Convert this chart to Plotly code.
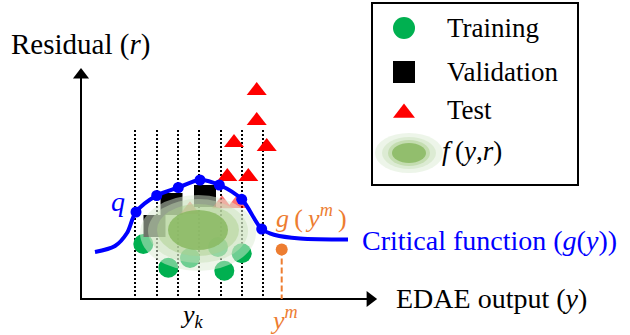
import plotly.graph_objects as go

# ---- canvas coordinates (x to the right, y downward) ----
W, H = 630, 335

# axes of the sketch
axis_origin = (81, 299)
y_axis_tip = 65
x_axis_tip = 380

# dotted bins along the output axis
grid_x = [135, 157, 178, 199, 221, 242, 263]
grid_top = 130

# critical function g(y) and its knots q
curve_x = [95, 115, 127, 136, 156.7, 178.3, 200, 219.3, 241.7, 261.7, 275, 300, 348]
curve_y = [252, 246, 233, 212, 195.5, 187.5, 180, 185, 199.3, 229, 235, 238.5, 239.5]
knot_index = [3, 4, 5, 6, 7, 8, 9]

# samples
train_x = [143.3, 168.3, 190, 218, 224.3, 241.7]
train_y = [244, 267.7, 258, 247, 270.7, 253.3]
val_x = [154.5, 171.5, 205]
val_y = [226, 204, 196]
test_x = [256.7, 256.7, 234, 266.7, 227.3, 248.3]
test_y = [90.7, 120.7, 142.7, 146.7, 176.7, 176.7]
test_hidden_x = [237, 222, 190]
test_hidden_y = [203.7, 204, 210]

# density f(y, r): nested layers (cx, cy, rx, ry)
density_cx = [198, 198, 198, 198]
density_cy = [233, 231, 230, 230]
density_rx = [58, 50, 41, 30]
density_ry = [38, 32, 26, 20]
density_fill = ["rgba(220,236,212,0.5)", "rgba(200,225,185,0.45)",
                "rgba(172,207,142,0.5)", "rgba(138,185,98,0.85)"]

# new observation y^m
ym_x, ym_y = 281.7, 249.5

# legend
legend_box = (372, 3, 578, 185)
legend_mark_x = 404
legend_rows_y = [28, 72, 110, 151]
legend_labels = ["Training", "Validation", "Test", "<i>f</i>\u2009(<i>y</i>,<i>r</i>)"]
legend_blob_scale = [(34, 20), (27, 16), (21, 13), (17, 10)]
legend_blob_c = (409, 153)

BLUE = "#0000FF"
GREEN = "#00B050"
RED = "#FF0000"
ORANGE = "#ED7D31"
FONT = "Liberation Serif"

fig = go.Figure()

# dotted bin lines
for gx in grid_x:
    fig.add_trace(go.Scatter(
        x=[gx, gx], y=[grid_top, axis_origin[1]], mode="lines",
        line=dict(color="black", width=2, dash="2px,2px"),
        hoverinfo="skip", showlegend=False))

# axis lines and arrow heads
ARROW_SIZE = 14
tip_offset = ARROW_SIZE / 2 * 2 ** 0.5
fig.add_trace(go.Scatter(x=[axis_origin[0], axis_origin[0]],
                         y=[axis_origin[1] + 1, y_axis_tip + 6], mode="lines",
                         line=dict(color="black", width=2), showlegend=False))
fig.add_trace(go.Scatter(x=[axis_origin[0] - 1, x_axis_tip - 6],
                         y=[axis_origin[1], axis_origin[1]], mode="lines",
                         line=dict(color="black", width=2), showlegend=False))
fig.add_trace(go.Scatter(x=[axis_origin[0]], y=[y_axis_tip + tip_offset], mode="markers",
                         marker=dict(symbol="triangle-up", size=ARROW_SIZE, color="black"),
                         showlegend=False))
fig.add_trace(go.Scatter(x=[x_axis_tip - tip_offset], y=[axis_origin[1]], mode="markers",
                         marker=dict(symbol="triangle-right", size=ARROW_SIZE, color="black"),
                         showlegend=False))

# samples
fig.add_trace(go.Scatter(x=train_x, y=train_y, mode="markers",
                         marker=dict(symbol="circle", size=20, color=GREEN),
                         showlegend=False))
fig.add_trace(go.Scatter(x=val_x, y=val_y, mode="markers",
                         marker=dict(symbol="square", size=22, color="black"),
                         showlegend=False))
fig.add_trace(go.Scatter(x=test_hidden_x, y=test_hidden_y, mode="markers",
                         marker=dict(symbol="triangle-up", size=17.4, color=RED),
                         opacity=0.55, showlegend=False))
fig.add_trace(go.Scatter(x=test_x, y=test_y, mode="markers",
                         marker=dict(symbol="triangle-up", size=17.4, color=RED),
                         showlegend=False))

# critical function and knots
fig.add_trace(go.Scatter(x=curve_x, y=curve_y, mode="lines",
                         line=dict(color=BLUE, width=4, shape="spline", smoothing=0.9),
                         showlegend=False))
fig.add_trace(go.Scatter(x=[curve_x[i] for i in knot_index],
                         y=[curve_y[i] for i in knot_index], mode="markers",
                         marker=dict(size=11, color=BLUE), showlegend=False))

# y^m projection
fig.add_trace(go.Scatter(x=[ym_x, ym_x], y=[ym_y, axis_origin[1]], mode="lines",
                         line=dict(color=ORANGE, width=2, dash="6px,3px"),
                         showlegend=False))
fig.add_trace(go.Scatter(x=[ym_x], y=[ym_y], mode="markers",
                         marker=dict(size=12, color=ORANGE), showlegend=False))

# legend glyphs
fig.add_trace(go.Scatter(x=[legend_mark_x], y=[legend_rows_y[0]], mode="markers",
                         marker=dict(symbol="circle", size=22, color=GREEN), showlegend=False))
fig.add_trace(go.Scatter(x=[legend_mark_x], y=[legend_rows_y[1]], mode="markers",
                         marker=dict(symbol="square", size=22, color="black"), showlegend=False))
fig.add_trace(go.Scatter(x=[legend_mark_x], y=[legend_rows_y[2] + 3], mode="markers",
                         marker=dict(symbol="triangle-up", size=19, color=RED), showlegend=False))

shapes = []
# density blob over the samples
for cx, cy, rx, ry, fc in zip(density_cx, density_cy, density_rx, density_ry, density_fill):
    shapes.append(dict(type="circle", xref="x", yref="y", layer="above",
                       x0=cx - rx, x1=cx + rx, y0=cy - ry, y1=cy + ry,
                       fillcolor=fc, line=dict(width=0)))
# legend blob
for (rx, ry), fc in zip(legend_blob_scale, density_fill):
    cx, cy = legend_blob_c
    shapes.append(dict(type="circle", xref="x", yref="y", layer="above",
                       x0=cx - rx, x1=cx + rx, y0=cy - ry, y1=cy + ry,
                       fillcolor=fc, line=dict(width=0)))
# legend frame
shapes.append(dict(type="rect", xref="x", yref="y", layer="above",
                   x0=legend_box[0], y0=legend_box[1], x1=legend_box[2], y1=legend_box[3],
                   line=dict(color="black", width=2), fillcolor="rgba(0,0,0,0)"))

annotations = []


def label(x, y, text, size=28, color="black", xanchor="left"):
    annotations.append(dict(x=x, y=y, xref="x", yref="y", text=text, showarrow=False,
                            xanchor=xanchor, yanchor="middle", borderpad=0,
                            font=dict(family=FONT, size=size, color=color)))


label(10, 44, "Residual (<i>r</i>)", size=29)
label(395, 298, "EDAE output (<i>y</i>)")
label(361, 240, "Critical function (<i>g</i>(<i>y</i>))")
annotations[-1]["font"]["color"] = BLUE
label(118, 201, "<i>q</i>", color=BLUE, xanchor="center")
label(275, 216, "<i>g</i>\u2009(\u2009<i>y</i><sup><i>m</i></sup>\u2009)", size=26, color=ORANGE)
label(269, 318, "<i>y</i><sup><i>m</i></sup>", size=26, color=ORANGE)
label(179, 316, "<i>y</i><sub><i>k</i></sub>", size=26)
for ly, lt in zip(legend_rows_y, legend_labels):
    label(446 if lt != legend_labels[-1] else 441, ly, lt, size=27)

fig.update_layout(
    width=W, height=H, margin=dict(l=0, r=0, t=0, b=0),
    paper_bgcolor="white", plot_bgcolor="white",
    font=dict(family=FONT),
    xaxis=dict(range=[0, W], visible=False, fixedrange=True),
    yaxis=dict(range=[H, 0], visible=False, fixedrange=True),
    shapes=shapes, annotations=annotations, showlegend=False,
)

fig.write_html("out.html")
